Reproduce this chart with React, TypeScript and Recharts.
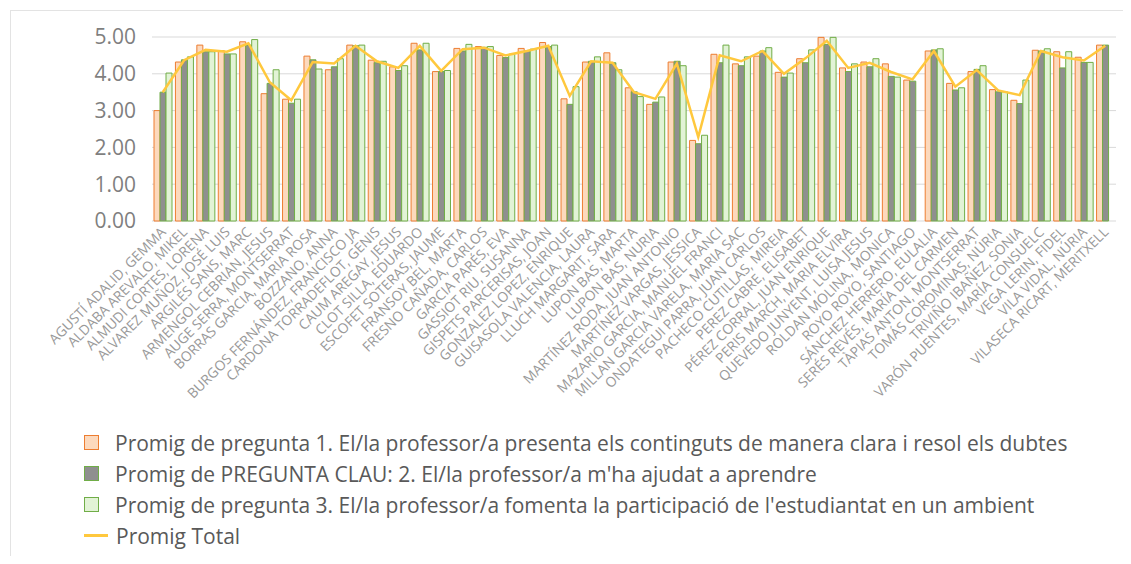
import React from "react";
import {
  ComposedChart,
  Bar,
  Line,
  XAxis,
  YAxis,
  CartesianGrid,
} from "recharts";

const professors = [
  "AGUSTÍ ADALID, GEMMA",
  "ALDABA AREVALO, MIKEL",
  "ALMUDI CORTES, LORENA",
  "ALVAREZ MUÑOZ, JOSÉ LUIS",
  "ARGILÉS SANS, MARC",
  "ARMENGOL CEBRIAN, JESUS",
  "AUGE SERRA, MONTSERRAT",
  "BORRAS GARCIA, MARIA ROSA",
  "BOZZANO, ANNA",
  "BURGOS FERNÁNDEZ, FRANCISCO JA",
  "CARDONA TORRADEFLOT, GENIS",
  "CAUM AREGAY, JESUS",
  "CLOT SILLA, EDUARDO",
  "ESCOFET SOTERAS, JAUME",
  "FRANSOY BEL, MARTA",
  "FRESNO CAÑADA, CARLOS",
  "GARCIA PARÉS, EVA",
  "GASSIOT RIU, SUSANNA",
  "GISPETS PARCERISAS, JOAN",
  "GONZALEZ LOPEZ, ENRIQUE",
  "GUISASOLA VALENCIA, LAURA",
  "LLUCH MARGARIT, SARA",
  "LUPON BAS, MARTA",
  "LUPON BAS, NURIA",
  "MARTÍNEZ RODA, JUAN ANTONIO",
  "MARTÍNEZ VARGAS, JESSICA",
  "MAZARIO GARCIA, MANUEL FRANCI",
  "MILLAN GARCIA VARELA, MARIA SAC",
  "ONDATEGUI PARRA, JUAN CARLOS",
  "PACHECO CUTILLAS, MIREIA",
  "PEREZ CABRE, ELISABET",
  "PÉREZ CORRAL, JUAN ENRIQUE",
  "PERIS MARCH, MARIA ELVIRA",
  "QUEVEDO JUNYENT, LUISA JESUS",
  "ROLDAN MOLINA, MONICA",
  "ROYO ROYO, SANTIAGO",
  "SÁNCHEZ HERRERO, EULALIA",
  "SERÉS REVÉS, MARÍA DEL CARMEN",
  "TÀPIAS ANTON, MONTSERRAT",
  "TOMÁS COROMINAS, NÚRIA",
  "TRIVIÑO IBAÑEZ, SONIA",
  "VARÓN PUENTES, MARÍA CONSUELC",
  "VEGA LERIN, FIDEL",
  "VILA VIDAL, NÚRIA",
  "VILASECA RICART, MERITXELL",
];

const pregunta1 = [
  3.0, 4.32, 4.78, 4.63, 4.87, 3.46, 3.31, 4.48, 4.11, 4.78, 4.37, 4.19, 4.83, 4.06, 4.69,
  4.74, 4.5, 4.69, 4.85, 3.32, 4.32, 4.57, 3.62, 3.17, 4.32, 2.19, 4.53, 4.27, 4.48, 4.04,
  4.41, 4.99, 4.16, 4.32, 4.27, 3.83, 4.62, 3.74, 4.06, 3.57, 3.28, 4.64, 4.6, 4.45, 4.78,
];

const preguntaClau = [
  3.5, 4.38, 4.6, 4.54, 4.78, 3.74, 3.2, 4.38, 4.19, 4.76, 4.3, 4.09, 4.65, 4.06, 4.62,
  4.72, 4.44, 4.62, 4.74, 3.17, 4.34, 4.3, 3.51, 3.23, 4.34, 2.1, 4.3, 4.22, 4.62, 3.91,
  4.3, 4.8, 4.06, 4.19, 3.93, 3.8, 4.65, 3.56, 4.12, 3.51, 3.19, 4.62, 4.16, 4.31, 4.78,
];

const pregunta3 = [
  4.02, 4.46, 4.6, 4.54, 4.93, 4.11, 3.31, 4.13, 4.41, 4.78, 4.34, 4.22, 4.83, 4.09, 4.8,
  4.74, 4.53, 4.67, 4.78, 3.65, 4.46, 4.11, 3.38, 3.37, 4.22, 2.33, 4.78, 4.46, 4.71, 4.02,
  4.65, 4.99, 4.27, 4.41, 3.91, null, 4.68, 3.62, 4.22, 3.51, 3.83, 4.68, 4.6, 4.31, null,
];

const promigTotal = [
  3.5, 4.37, 4.65, 4.6, 4.83, 3.77, 3.28, 4.32, 4.28, 4.76, 4.34, 4.16, 4.76, 4.08, 4.67,
  4.71, 4.5, 4.62, 4.76, 3.4, 4.34, 4.3, 3.5, 3.32, 4.28, 2.28, 4.5, 4.34, 4.62, 4.0,
  4.42, 4.9, 4.16, 4.3, 4.05, 3.85, 4.62, 3.65, 4.1, 3.55, 3.42, 4.62, 4.45, 4.36, 4.76,
];

const seriesNames = [
  "Promig de pregunta 1. El/la professor/a presenta els continguts de manera clara i resol els dubtes",
  "Promig de PREGUNTA CLAU: 2. El/la professor/a m'ha ajudat a aprendre",
  "Promig de pregunta 3. El/la professor/a fomenta la participació de l'estudiantat en un ambient",
  "Promig Total",
];

const yTicks = [0, 1, 2, 3, 4, 5];

const rows = professors.map((name, i) => ({
  name,
  p1: pregunta1[i],
  p2: preguntaClau[i],
  p3: pregunta3[i],
  total: promigTotal[i],
}));

const FONT = "'Open Sans', sans-serif";

const NameTick = ({ x, y, payload }: any) => (
  <text
    x={x + 4}
    y={y + 4}
    transform={`rotate(-45 ${x + 4} ${y + 4})`}
    textAnchor="end"
    fontSize={13.8}
    fill="#999999"
    fontFamily={FONT}
  >
    {payload.value}
  </text>
);

const legendItems = [
  { label: seriesNames[0], fill: "#fcd9bd", stroke: "#ed7d31" },
  { label: seriesNames[1], fill: "#8f8f8f", stroke: "#70ad47" },
  { label: seriesNames[2], fill: "#e2f3d6", stroke: "#70ad47" },
];

const ChartLegend = () => (
  <div
    style={{
      position: "absolute",
      left: 84,
      top: 427,
      fontFamily: FONT,
      fontSize: 21,
      color: "#595959",
      whiteSpace: "nowrap",
    }}
  >
    {legendItems.map((it) => (
      <div key={it.label} style={{ display: "flex", alignItems: "center", height: 31 }}>
        <span
          style={{
            width: 13,
            height: 13,
            background: it.fill,
            border: `1.5px solid ${it.stroke}`,
            marginRight: 16,
          }}
        />
        {it.label}
      </div>
    ))}
    <div style={{ display: "flex", alignItems: "center", height: 31 }}>
      <span style={{ width: 24, height: 2.5, background: "#ffc83d", marginRight: 8 }} />
      {seriesNames[3]}
    </div>
  </div>
);

export default function App() {
  return (
    <div style={{ margin: -8, width: 1131, height: 564, position: "relative", background: "#fff", overflow: "hidden" }}>
      <div
        style={{
          position: "absolute",
          left: 10,
          top: 10,
          width: 1112,
          height: 570,
          border: "1px solid #e3e3e3",
        }}
      />
      <ComposedChart
        width={1131}
        height={564}
        data={rows}
        margin={{ top: 37, right: 15, left: 82, bottom: 0 }}
        barGap={0}
        barSize={6}
      >
        <CartesianGrid vertical={false} stroke="#d9d9d9" />
        <XAxis
          dataKey="name"
          interval={0}
          tick={<NameTick />}
          tickLine={false}
          axisLine={false}
          height={343}
        />
        <YAxis
          domain={[0, 5]}
          ticks={yTicks}
          width={70}
          tickFormatter={(v: number) => v.toFixed(2)}
          tick={{ fill: "#7f7f7f", fontSize: 21, fontFamily: FONT }}
          tickLine={false}
          axisLine={false}
          tickMargin={10}
        />
        <Bar dataKey="p1" name={seriesNames[0]} fill="#fcd9bd" stroke="#ed7d31" strokeWidth={1} isAnimationActive={false} />
        <Bar dataKey="p2" name={seriesNames[1]} fill="#8f8f8f" stroke="#70ad47" strokeWidth={1} isAnimationActive={false} />
        <Bar dataKey="p3" name={seriesNames[2]} fill="#e2f3d6" stroke="#70ad47" strokeWidth={1} isAnimationActive={false} />
        <Line
          dataKey="total"
          name={seriesNames[3]}
          stroke="#ffc83d"
          strokeWidth={2.5}
          dot={false}
          type="linear"
          isAnimationActive={false}
        />
      </ComposedChart>
      <ChartLegend />
    </div>
  );
}
